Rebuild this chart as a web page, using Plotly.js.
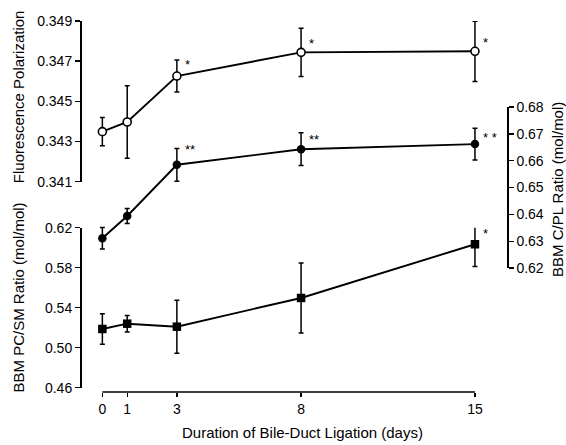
<!DOCTYPE html>
<html>
<head>
<meta charset="utf-8">
<script src="https://cdn.plot.ly/plotly-3.0.1.min.js"></script>
<style>html,body{margin:0;padding:0;background:#fff;}#chart{width:566px;height:445px;}</style>
</head>
<body>
<div id="chart"></div>
<script>
// Duration of bile-duct ligation (days)
const days = [0, 1, 3, 8, 15];

// Fluorescence polarization (open circles, top-left axis)
const fpValues = [0.34349, 0.34397, 0.34626, 0.34744, 0.34749];
const fpErrors = [0.0007, 0.0018, 0.0008, 0.0012, 0.0015];
const fpSigLabels = ['', '', '*', '*', '*'];
const fpSigY = [null, null, 0.34697, 0.34802, 0.3481];

// BBM C/PL ratio (filled circles, right axis)
const cplValues = [0.6311, 0.6394, 0.6585, 0.6643, 0.6662];
const cplErrors = [0.0040, 0.0028, 0.0061, 0.0061, 0.0059];
const cplSigLabels = ['', '', '**', '**', '* *'];
const cplSigY = [null, null, 0.6652, 0.6689, 0.6699];

// BBM PC/SM ratio (filled squares, bottom-left axis)
const pcsmValues = [0.5187, 0.5240, 0.5210, 0.5497, 0.6034];
const pcsmErrors = [0.0152, 0.0082, 0.0265, 0.0350, 0.0223];
const pcsmSigLabels = ['', '', '', '', '*'];
const pcsmSigY = [null, null, null, null, 0.6170];

// Tick labels
const xTicks = [0, 1, 3, 8, 15];
const fpTicks = [0.341, 0.343, 0.345, 0.347, 0.349];
const cplTicks = [0.62, 0.63, 0.64, 0.65, 0.66, 0.67, 0.68];
const pcsmTicks = [0.46, 0.50, 0.54, 0.58, 0.62];

const FONT = 'Liberation Sans, Arial, Helvetica, sans-serif';
const lineStyle = {color: '#000', width: 1.9};
function err(a) {
  return {type: 'data', array: a, visible: true, color: '#000', thickness: 1.5, width: 2.5};
}

const traces = [
  {x: days, y: fpValues, yaxis: 'y', mode: 'lines+markers', cliponaxis: false,
   line: lineStyle, error_y: err(fpErrors),
   marker: {symbol: 'circle', size: 8, color: '#fff', line: {color: '#000', width: 1.6}}},
  {x: days, y: cplValues, yaxis: 'y2', mode: 'lines+markers', cliponaxis: false,
   line: lineStyle, error_y: err(cplErrors),
   marker: {symbol: 'circle', size: 8.5, color: '#000'}},
  {x: days, y: pcsmValues, yaxis: 'y3', mode: 'lines+markers', cliponaxis: false,
   line: lineStyle, error_y: err(pcsmErrors),
   marker: {symbol: 'square', size: 8.5, color: '#000'}}
];

const annotations = [];
function addSig(labels, ys, yref) {
  labels.forEach((t, i) => {
    if (!t) return;
    annotations.push({x: days[i], y: ys[i], xref: 'x', yref: yref, text: t, showarrow: false,
      xanchor: 'left', yanchor: 'middle', xshift: 6, yshift: -3,
      font: {family: FONT, size: 13, color: '#000'}});
  });
}
addSig(fpSigLabels, fpSigY, 'y');
addSig(cplSigLabels, cplSigY, 'y2');
addSig(pcsmSigLabels, pcsmSigY, 'y3');

const titleFont = {family: FONT, size: 15, color: '#000'};
annotations.push(
  {text: 'Fluorescence Polarization', xref: 'paper', yref: 'paper', x: -0.145, y: 0.795,
   textangle: -90, showarrow: false, xanchor: 'center', yanchor: 'middle', font: titleFont},
  {text: 'BBM PC/SM Ratio (mol/mol)', xref: 'paper', yref: 'paper', x: -0.145, y: 0.255,
   textangle: -90, showarrow: false, xanchor: 'center', yanchor: 'middle', font: titleFont},
  {text: 'BBM C/PL Ratio (mol/mol)', xref: 'paper', yref: 'paper', x: 1.117, y: 0.547,
   textangle: -90, showarrow: false, xanchor: 'center', yanchor: 'middle', font: titleFont},
  {text: 'Duration of Bile-Duct Ligation (days)', xref: 'paper', yref: 'paper', x: 0.521, y: -0.11,
   showarrow: false, xanchor: 'center', yanchor: 'middle', font: titleFont}
);

const tickFont = {family: FONT, size: 14, color: '#000'};
const yCommon = {showgrid: false, zeroline: false, showline: true, linecolor: '#000', linewidth: 1.6,
  ticks: 'outside', ticklen: 5, tickwidth: 1.4, tickcolor: '#000', tickfont: tickFont, anchor: 'free'};

const layout = {
  width: 566, height: 445,
  margin: {l: 80, r: 59, t: 21, b: 53},
  paper_bgcolor: '#fff', plot_bgcolor: 'rgba(0,0,0,0)',
  showlegend: false,
  font: {family: FONT, color: '#000'},
  xaxis: {range: [-0.9, 16.29], domain: [0, 1], anchor: 'free', position: 0,
    showgrid: false, zeroline: false, showline: false,
    tickvals: xTicks, ticktext: xTicks.map(String), ticks: 'outside', ticklen: 4, tickwidth: 1.4,
    tickcolor: '#000', tickfont: tickFont},
  yaxis: Object.assign({}, yCommon, {domain: [0.567, 1], range: [0.341, 0.349], position: 0,
    tickvals: fpTicks, ticktext: fpTicks.map(v => v.toFixed(3))}),
  yaxis2: Object.assign({}, yCommon, {domain: [0.334, 0.768], range: [0.62, 0.68], position: 1, side: 'right',
    tickvals: cplTicks, ticktext: cplTicks.map(v => v.toFixed(2))}),
  yaxis3: Object.assign({}, yCommon, {domain: [0.0116, 0.443], range: [0.46, 0.62], position: 0,
    tickvals: pcsmTicks, ticktext: pcsmTicks.map(v => v.toFixed(2))}),
  shapes: [{type: 'line', xref: 'x', yref: 'paper', x0: xTicks[0], x1: xTicks[xTicks.length - 1], y0: 0, y1: 0,
    line: {color: '#000', width: 1.6}}],
  annotations: annotations
};

Plotly.newPlot('chart', traces, layout, {displayModeBar: false, staticPlot: true});
</script>
</body>
</html>
